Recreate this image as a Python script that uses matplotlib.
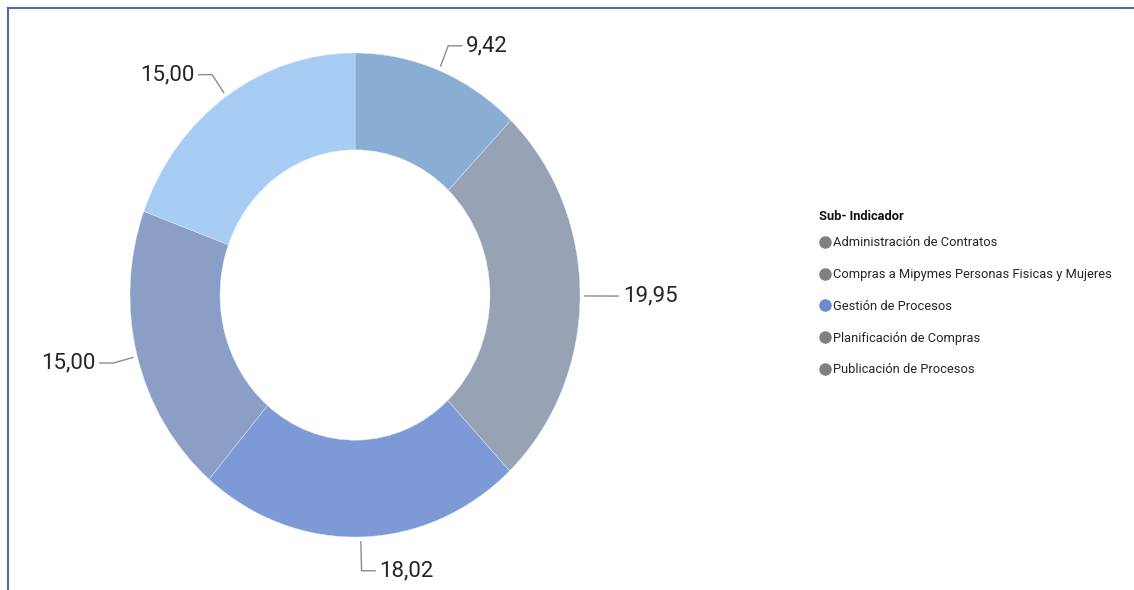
import numpy as np
import matplotlib.pyplot as plt
from matplotlib.lines import Line2D

# Data
categories = ['Administración de Contratos',
              'Compras a Mipymes Personas Fisicas y Mujeres',
              'Gestión de Procesos',
              'Planificación de Compras',
              'Publicación de Procesos']
values = [9.42, 19.95, 18.02, 15.00, 15.00]
labels = ['9,42', '19,95', '18,02', '15,00', '15,00']
slice_colors = ['#8aaed3', '#97a3b5', '#7e9ad6', '#8b9fc6', '#a8cdf4']
legend_colors = ['#808080', '#808080', '#6b8cc7', '#808080', '#808080']

font_fam = ['Roboto', 'DejaVu Sans']

fig = plt.figure(figsize=(11.34, 5.9), dpi=100)

# frame lines top and left
fig.add_artist(Line2D([8 / 1134, 1], [1 - 8 / 590, 1 - 8 / 590], color='#4a6fa5', lw=1.5))
fig.add_artist(Line2D([8 / 1134, 8 / 1134], [0, 1 - 8 / 590], color='#4a6fa5', lw=1.5))

ax = fig.add_axes([130 / 1134, 53 / 590, 450 / 1134, 484 / 590])
wedges, _ = ax.pie(values, colors=slice_colors, startangle=90, counterclock=False,
                   radius=1.0, wedgeprops=dict(width=0.4, edgecolor='#dbe8f8', linewidth=0.3))
ax.set_aspect('auto')
ax.set_xlim(-1, 1)
ax.set_ylim(-1, 1)
ax.axis('off')

# leader lines and value labels
for w, lab in zip(wedges, labels):
    ang = np.deg2rad((w.theta1 + w.theta2) / 2)
    c, s = np.cos(ang), np.sin(ang)
    r1 = 1.11 if abs(s) < 0.97 else 1.14
    x0, y0 = 1.02 * c, 1.02 * s
    x1, y1 = r1 * c, r1 * s
    d = 1 if c >= 0 else -1
    x2 = x1 + d * 0.06
    ax.plot([x0, x1, x2], [y0, y1, y1], color='#8c8c8c', lw=1, clip_on=False)
    ax.text(x2 + d * 0.02, y1, lab, ha='left' if d > 0 else 'right', va='center',
            fontsize=16, color='#252525', family=font_fam)

# legend
fig.text(819 / 1134, 1 - 216 / 590, 'Sub- Indicador', ha='left', va='center',
         family=font_fam, fontsize=9.3, weight='bold', color='#111111')
handles = [Line2D([], [], marker='o', ls='', markersize=8, markerfacecolor=col,
                  markeredgecolor=col) for col in legend_colors]
leg = fig.legend(handles, categories, loc='upper left', bbox_to_anchor=(812 / 1134, 1 - 230 / 590),
                 frameon=False, prop=dict(family=font_fam, size=9.3), labelspacing=1.45,
                 handletextpad=0.1, handlelength=1.0, borderpad=0)
for t in leg.get_texts():
    t.set_color('#252525')

fig.savefig('out.png', dpi=100)
